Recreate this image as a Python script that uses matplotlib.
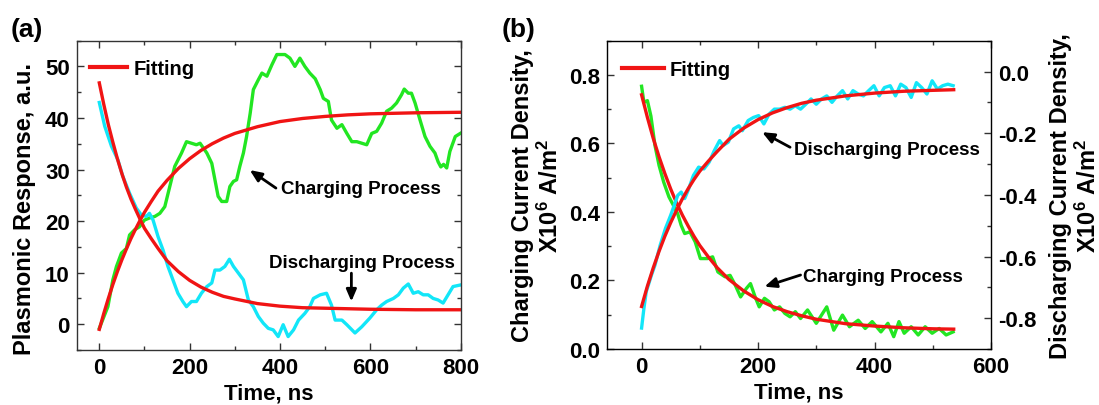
import matplotlib
matplotlib.use("Agg")
import matplotlib.pyplot as plt
from matplotlib.lines import Line2D
from matplotlib.ticker import MultipleLocator, FormatStrFormatter

plt.rcParams["font.family"] = ["Liberation Sans", "DejaVu Sans"]
plt.rcParams["font.weight"] = "bold"
plt.rcParams["axes.labelweight"] = "bold"
plt.rcParams["axes.unicode_minus"] = False
plt.rcParams["mathtext.fontset"] = "custom"
plt.rcParams["mathtext.rm"] = "Liberation Sans:bold"
plt.rcParams["mathtext.bf"] = "Liberation Sans:bold"
plt.rcParams["mathtext.it"] = "Liberation Sans:bold"
plt.rcParams["mathtext.default"] = "rm"

GREEN = "#22e622"
CYAN = "#12e6f8"
RED = "#f01414"

# ---- panel (a): plasmonic response ----
a_charge_t = [0, 19, 30, 38, 49, 60, 67, 78, 89, 100, 111, 123, 134, 145, 156, 167,
              182, 193, 204, 215, 223, 238, 249, 256, 263, 271, 282, 289, 297, 304,
              311, 319, 326, 334, 341, 352, 360, 371, 382, 393, 411, 422, 433, 444,
              455, 466, 478, 489, 496, 507, 514, 526, 537, 548, 559, 570, 581, 592,
              603, 614, 625, 636, 647, 658, 669, 675, 684, 691, 699, 710, 721, 732,
              743, 750, 756, 762, 769, 776, 788, 799]
a_charge_v = [-0.8, 3.4, 8.6, 11.2, 13.8, 14.7, 17.3, 18.3, 18.9, 20.2, 20.6, 20.9,
              21.5, 22.8, 26.7, 30.6, 33.2, 35.4, 35.1, 34.8, 35.1, 33.2, 31.2, 28.0,
              24.8, 23.8, 23.8, 26.7, 27.7, 28.0, 30.6, 33.2, 36.4, 40.9, 45.5, 47.4,
              48.7, 48.1, 50.3, 52.3, 52.3, 51.6, 50.0, 51.6, 50.0, 48.7, 47.6, 45.5,
              43.8, 43.2, 39.6, 38.0, 38.7, 37.0, 35.4, 35.4, 35.1, 34.8, 37.0, 37.4,
              39.0, 41.3, 41.9, 42.9, 44.5, 45.6, 44.8, 44.8, 42.9, 39.6, 36.4, 34.5,
              33.2, 31.5, 30.5, 31.0, 30.3, 33.5, 36.4, 37.0]

a_dis_t = [0, 12, 27, 41, 52, 67, 82, 93, 104, 111, 119, 130, 141, 152, 163, 174,
           185, 193, 204, 215, 226, 238, 249, 256, 267, 278, 288, 297, 308, 319, 330,
           341, 352, 363, 374, 385, 396, 407, 418, 430, 441, 455, 466, 474, 489, 503,
           514, 522, 537, 548, 566, 581, 599, 614, 625, 636, 651, 662, 673, 684, 695,
           706, 717, 728, 739, 750, 761, 772, 783, 799]
a_dis_v = [43.0, 38.4, 34.5, 31.9, 28.7, 25.4, 22.5, 21.2, 20.9, 21.5, 20.2, 17.0,
           14.4, 11.2, 8.6, 6.0, 4.4, 3.4, 4.4, 4.4, 6.0, 7.3, 8.0, 10.5, 10.5, 11.2,
           12.6, 11.2, 9.9, 8.6, 4.7, 3.4, 1.5, 0.2, -0.8, -1.1, -2.4, -0.1, -2.4,
           -1.1, 0.8, 2.1, 3.4, 5.0, 5.7, 6.0, 3.7, 0.8, 0.8, -0.1, -1.7, -0.5, 1.2,
           2.8, 3.7, 4.4, 5.0, 5.7, 7.0, 7.8, 6.0, 6.3, 5.7, 5.7, 5.0, 4.7, 4.1, 5.7,
           7.3, 7.6]

a_fit_t = [0, 10, 20, 30, 40, 50, 60, 70, 80, 90, 100, 115, 130, 150, 175, 200, 225,
           250, 275, 300, 350, 400, 450, 500, 550, 600, 700, 800]
a_fit_rise = [-1.0, 2.1, 5.0, 7.7, 10.2, 12.5, 14.6, 16.6, 18.4, 20.1, 21.7, 23.8,
              25.8, 27.9, 30.2, 32.1, 33.7, 35.0, 36.1, 37.0, 38.3, 39.3, 39.9, 40.3,
              40.6, 40.8, 41.0, 41.1]
a_fit_decay = [46.8, 42.6, 38.7, 35.3, 32.1, 29.2, 26.6, 24.3, 22.3, 20.4, 18.6,
               16.6, 14.7, 12.3, 10.2, 8.5, 7.2, 6.2, 5.4, 4.9, 4.0, 3.5, 3.2, 3.1,
               3.0, 2.9, 2.8, 2.8]

# ---- panel (b): current density ----
b_charge_t = [0, 4, 10, 16, 23, 30, 38, 47, 56, 62, 68, 74, 83, 92, 101, 113, 122,
              131, 143, 152, 161, 170, 180, 187, 195, 202, 211, 219, 228, 237, 246,
              255, 264, 273, 285, 300, 318, 330, 345, 357, 372, 384, 396, 411, 423,
              433, 442, 451, 463, 475, 487, 499, 511, 523, 535]
b_charge_v = [0.767, 0.720, 0.725, 0.680, 0.594, 0.536, 0.487, 0.444, 0.415, 0.395,
              0.361, 0.337, 0.342, 0.313, 0.264, 0.264, 0.269, 0.225, 0.211, 0.215,
              0.186, 0.152, 0.177, 0.191, 0.152, 0.123, 0.148, 0.138, 0.114, 0.123,
              0.104, 0.094, 0.109, 0.089, 0.114, 0.075, 0.123, 0.055, 0.099, 0.065,
              0.084, 0.060, 0.080, 0.050, 0.075, 0.036, 0.080, 0.046, 0.065, 0.041,
              0.065, 0.046, 0.060, 0.041, 0.050]

b_dis_t = [0, 4, 8, 17, 23, 32, 41, 50, 56, 62, 68, 74, 80, 89, 98, 107, 116, 125,
           134, 140, 149, 158, 167, 173, 183, 192, 201, 210, 219, 228, 237, 246, 255,
           264, 273, 282, 291, 300, 309, 318, 327, 336, 345, 354, 363, 372, 381, 390,
           399, 408, 417, 427, 436, 445, 454, 463, 472, 481, 490, 499, 508, 517, 526,
           535]
b_dis_v = [-0.832, -0.768, -0.714, -0.660, -0.628, -0.563, -0.509, -0.466, -0.434,
           -0.402, -0.391, -0.412, -0.385, -0.337, -0.310, -0.316, -0.294, -0.256,
           -0.224, -0.240, -0.229, -0.186, -0.176, -0.192, -0.159, -0.149, -0.143,
           -0.170, -0.138, -0.122, -0.122, -0.116, -0.122, -0.111, -0.122, -0.106,
           -0.089, -0.106, -0.089, -0.079, -0.100, -0.079, -0.062, -0.089, -0.062,
           -0.073, -0.079, -0.062, -0.046, -0.079, -0.052, -0.046, -0.079, -0.041,
           -0.052, -0.084, -0.036, -0.052, -0.073, -0.030, -0.057, -0.046, -0.041,
           -0.046]

b_fit_t = [0, 10, 20, 30, 40, 50, 60, 70, 80, 90, 100, 115, 130, 150, 175, 200, 225,
           250, 275, 300, 350, 400, 450, 500, 536]
b_fit_decay = [0.742, 0.676, 0.615, 0.561, 0.512, 0.467, 0.427, 0.391, 0.359, 0.329,
               0.302, 0.268, 0.237, 0.203, 0.170, 0.144, 0.124, 0.109, 0.097, 0.087,
               0.074, 0.067, 0.062, 0.059, 0.058]
b_fit_rise = [-0.762, -0.696, -0.637, -0.583, -0.534, -0.490, -0.450, -0.413, -0.380,
              -0.350, -0.323, -0.290, -0.259, -0.220, -0.184, -0.156, -0.134, -0.117,
              -0.103, -0.093, -0.079, -0.070, -0.064, -0.061, -0.059]

TICK_SIZE = 16


def style_axis(ax, right=True):
    ax.tick_params(which="both", direction="in", top=True, right=right, width=1,
                   color="#333333")
    ax.tick_params(which="major", length=5, labelsize=TICK_SIZE, pad=5)
    ax.tick_params(which="minor", length=3)
    for sp in ax.spines.values():
        sp.set_linewidth(1)
        sp.set_color("#333333")


def arrow(ax, tip, tail):
    ax.annotate("", xy=tip, xytext=tail,
                arrowprops=dict(arrowstyle="-|>,head_length=0.7,head_width=0.3",
                                color="black", lw=2, shrinkA=0, shrinkB=0))


def fit_legend(ax, anchor, handlelength):
    ax.legend(handles=[Line2D([], [], color=RED, lw=3)], labels=["Fitting"],
              loc="center left", bbox_to_anchor=anchor, frameon=False,
              borderpad=0, borderaxespad=0, handlelength=handlelength,
              handletextpad=0.3, prop=dict(size=14.5, weight="bold"))


fig = plt.figure(figsize=(10.99, 4.06), dpi=100)

# panel (a)
ax = fig.add_axes([0.0698, 0.1355, 0.3494, 0.762])
ax.plot(a_charge_t, a_charge_v, color=GREEN, lw=2.4)
ax.plot(a_dis_t, a_dis_v, color=CYAN, lw=2.4)
ax.plot(a_fit_t, a_fit_rise, color=RED, lw=2.4)
ax.plot(a_fit_t, a_fit_decay, color=RED, lw=2.4)
ax.set_xlim(-50, 800)
ax.set_ylim(-5, 55)
ax.xaxis.set_major_locator(MultipleLocator(200))
ax.xaxis.set_minor_locator(MultipleLocator(100))
ax.yaxis.set_major_locator(MultipleLocator(10))
ax.yaxis.set_minor_locator(MultipleLocator(5))
style_axis(ax)
ax.set_xlabel("Time, ns", fontsize=16, labelpad=3)
ax.set_ylabel("Plasmonic Response, a.u.", fontsize=17)
ax.yaxis.set_label_coords(-0.105, 0.46)
fit_legend(ax, (0.035, 0.911), 1.85)
ax.text(403, 26.4, "Charging Process", fontsize=13.5, ha="left", va="center")
arrow(ax, (333, 29.9), (391, 26.4))
ax.text(582, 12.0, "Discharging Process", fontsize=13.5, ha="center", va="center")
arrow(ax, (558, 4.4), (558, 9.9))

# panel (b)
bx = fig.add_axes([0.552, 0.1379, 0.3497, 0.7594])
bx.plot(b_charge_t, b_charge_v, color=GREEN, lw=2.4)
bx.plot(b_fit_t, b_fit_decay, color=RED, lw=2.4)
bx.set_xlim(-60, 600)
bx.set_ylim(0, 0.9)
bx.xaxis.set_major_locator(MultipleLocator(200))
bx.xaxis.set_minor_locator(MultipleLocator(100))
bx.yaxis.set_major_locator(MultipleLocator(0.2))
bx.yaxis.set_minor_locator(MultipleLocator(0.1))
bx.yaxis.set_major_formatter(FormatStrFormatter("%.1f"))
style_axis(bx, right=False)
bx.set_xlabel("Time, ns", fontsize=16, labelpad=3)
bx.set_ylabel("Charging Current Density,\nX10$^6$ A/m$^2$", fontsize=17)

bx2 = bx.twinx()
bx2.plot(b_dis_t, b_dis_v, color=CYAN, lw=2.4)
bx2.plot(b_fit_t, b_fit_rise, color=RED, lw=2.4)
bx2.set_ylim(-0.9, 0.1)
bx2.yaxis.set_major_locator(MultipleLocator(0.2))
bx2.yaxis.set_minor_locator(MultipleLocator(0.1))
bx2.yaxis.set_major_formatter(FormatStrFormatter("%.1f"))
bx2.tick_params(which="both", direction="in", width=1, color="#333333")
bx2.tick_params(which="major", length=5, labelsize=TICK_SIZE, pad=5)
bx2.tick_params(which="minor", length=3)
bx2.set_ylabel("Discharging Current Density,\nX10$^6$ A/m$^2$", fontsize=17,
               labelpad=9)
fit_legend(bx2, (0.039, 0.906), 2.1)
bx.text(261, 0.582, "Discharging Process", fontsize=13.5, ha="left", va="center")
arrow(bx, (207, 0.633), (255, 0.589))
bx.text(277, 0.211, "Charging Process", fontsize=13.5, ha="left", va="center")
arrow(bx, (211, 0.182), (273, 0.216))

fig.text(0.0096, 0.926, "(a)", fontsize=19, ha="left", va="center")
fig.text(0.4564, 0.926, "(b)", fontsize=19, ha="left", va="center")

fig.savefig("out.png", dpi=100)
